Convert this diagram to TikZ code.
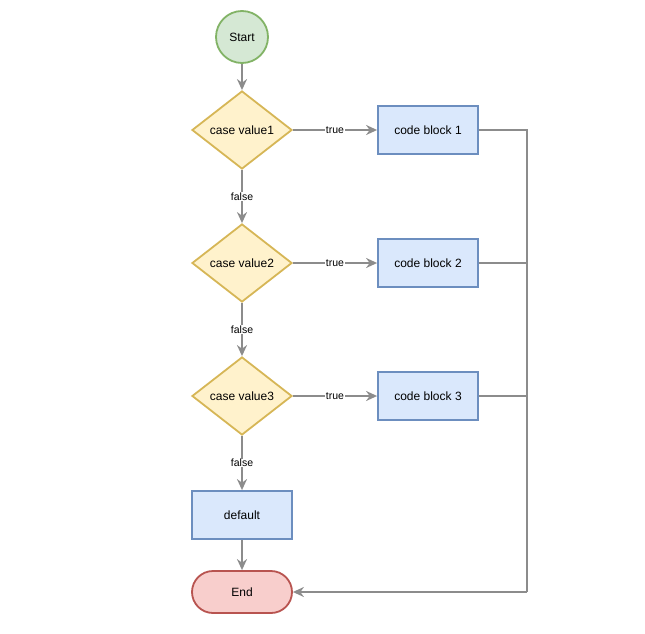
\documentclass[tikz,border=0pt]{standalone}
\usepackage{fontspec}
\setmainfont{Liberation Sans}
\usepackage{xcolor}
\usetikzlibrary{arrows.meta, positioning, shapes.geometric}

\definecolor{startfill}{HTML}{D5E8D4}
\definecolor{startdraw}{HTML}{82B366}
\definecolor{casefill}{HTML}{FFF2CC}
\definecolor{casedraw}{HTML}{D6B656}
\definecolor{blockfill}{HTML}{DAE8FC}
\definecolor{blockdraw}{HTML}{6C8EBF}
\definecolor{endfill}{HTML}{F8CECC}
\definecolor{enddraw}{HTML}{B85450}
\definecolor{linegray}{HTML}{8C8C8C}

\tikzset{
    startnode/.style={circle, draw=startdraw, fill=startfill, line width=1.8pt, minimum size=52pt, inner sep=0pt, font=\fontsize{12}{14}\selectfont},
    casenode/.style={diamond, draw=casedraw, fill=casefill, line width=1.8pt, minimum width=100pt, minimum height=78pt, inner sep=0pt, font=\fontsize{12}{14}\selectfont},
    blocknode/.style={rectangle, draw=blockdraw, fill=blockfill, line width=1.8pt, minimum width=100pt, minimum height=48pt, inner sep=0pt, font=\fontsize{12}{14}\selectfont},
    endnode/.style={rectangle, rounded corners=21pt, draw=enddraw, fill=endfill, line width=1.8pt, minimum width=100pt, minimum height=42pt, inner sep=0pt, font=\fontsize{12}{14}\selectfont},
    flow/.style={draw=linegray, line width=2.2pt},
    arrow/.style={flow, -{Stealth[length=11pt, width=10pt]}},
    edgelabel/.style={fill=white, inner sep=0.5pt, font=\fontsize{10.5}{12}\selectfont}
}

\begin{document}
\begin{tikzpicture}[x=1pt, y=-1pt]
    \useasboundingbox (0,0) rectangle (645,634);

    % Start and the three cases
    \node[startnode] (start) at (242,37) {Start};
    \node[casenode] (case1) at (242,130) {case value1};
    \node[casenode] (case2) at (242,263) {case value2};
    \node[casenode] (case3) at (242,396) {case value3};

    % Code blocks
    \node[blocknode] (block1) at (428,130) {code block 1};
    \node[blocknode] (block2) at (428,263) {code block 2};
    \node[blocknode] (block3) at (428,396) {code block 3};

    % Default and end
    \node[blocknode] (default) at (242,515) {default};
    \node[endnode] (end) at (242,592) {End};

    % Down the left column
    \draw[arrow] (start) -- (case1);
    \draw[arrow] (case1) -- node[edgelabel] {false} (case2);
    \draw[arrow] (case2) -- node[edgelabel] {false} (case3);
    \draw[arrow] (case3) -- node[edgelabel] {false} (default);
    \draw[arrow] (default) -- (end);

    % True branches
    \draw[arrow] (case1) -- node[edgelabel] {true} (block1);
    \draw[arrow] (case2) -- node[edgelabel] {true} (block2);
    \draw[arrow] (case3) -- node[edgelabel] {true} (block3);

    % Back to the end
    \coordinate (join) at (527,592);
    \draw[flow] (block1) -| (join);
    \draw[flow] (block2) -| (join);
    \draw[flow] (block3) -| (join);
    \draw[arrow] (join) -- (end);
\end{tikzpicture}
\end{document}
